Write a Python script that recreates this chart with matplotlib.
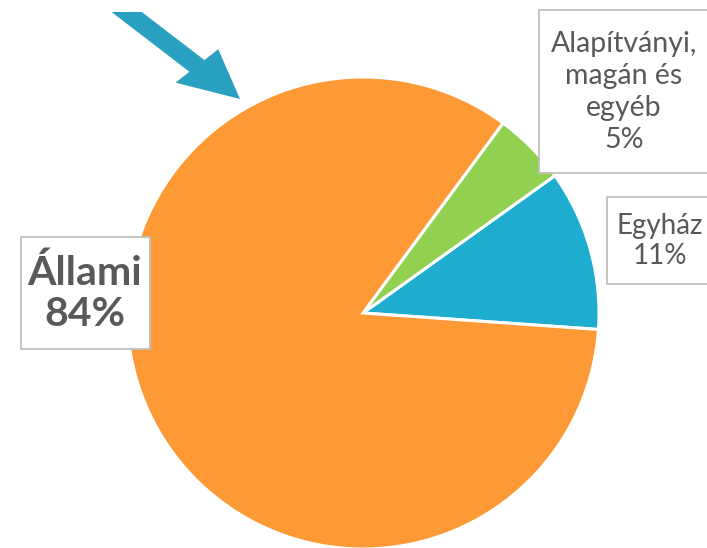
import matplotlib
matplotlib.use("Agg")
import matplotlib.pyplot as plt
from matplotlib.patches import FancyArrow, Rectangle

categories = ["Egyház", "Alapítványi,\nmagán és\negyéb", "Állami"]
values = [11, 5, 84]
colors = ["#1FADCF", "#92D050", "#FE9A36"]

W, H = 707, 548
fig = plt.figure(figsize=(W / 100, H / 100), dpi=100)
fig.patch.set_facecolor("white")

cx, cy, r = 363, H - 313, 236
ax = fig.add_axes([(cx - r) / W, (cy - r) / H, 2 * r / W, 2 * r / H])
wedges, _ = ax.pie(values, colors=colors, startangle=-4, counterclock=True,
                   wedgeprops=dict(edgecolor="white", linewidth=2.2))
ax.set_xlim(-1, 1)
ax.set_ylim(-1, 1)
ax.set_aspect("equal")
ax.axis("off")

plt.rcParams["font.family"] = ["Lato", "DejaVu Sans"]
txtcol = "#595959"

def fig_box(x0, y0, x1, y1):
    # rectangle in pixel coordinates (top-left origin)
    rect = Rectangle((x0 / W, 1 - y1 / H), (x1 - x0) / W, (y1 - y0) / H,
                     transform=fig.transFigure, facecolor="white",
                     edgecolor="#BFBFBF", linewidth=1.3, zorder=5)
    fig.add_artist(rect)

# Állami label
fig_box(21, 237, 150, 349)
fig.text(85 / W, 1 - 294 / H, f"{categories[2]}\n{values[2]}%", ha="center", va="center",
         fontsize=29.5, fontweight="bold", color=txtcol, linespacing=1.12, zorder=6)

# Alapítványi label
fig_box(539, 10, 712, 173)
fig.text(624 / W, 1 - 92 / H, f"{categories[1]}\n{values[1]}%", ha="center", va="center",
         fontsize=20.5, color=txtcol, linespacing=1.3, zorder=6)

# Egyház label
fig_box(607, 197, 712, 284)
fig.text(660 / W, 1 - 241 / H, f"{categories[0]}\n{values[0]}%", ha="center", va="center",
         fontsize=20, color=txtcol, linespacing=1.15, zorder=6)

# Arrow pointing at the pie (tail clipped at a horizontal edge)
x0, y0 = 98, -10
x1, y1 = 240, 99
arr = FancyArrow(x0 / W, 1 - y0 / H, (x1 - x0) / W, -(y1 - y0) / H,
                 width=16.5 / H, head_width=47 / H, head_length=47 / H,
                 length_includes_head=True, transform=fig.transFigure,
                 color="#2AA0C0", linewidth=0, zorder=4)
fig.add_artist(arr)
clip = Rectangle((0, 0), 1, 1 - 12 / H, transform=fig.transFigure)
arr.set_clip_path(clip)

fig.savefig("out.png", dpi=100, facecolor="white")
